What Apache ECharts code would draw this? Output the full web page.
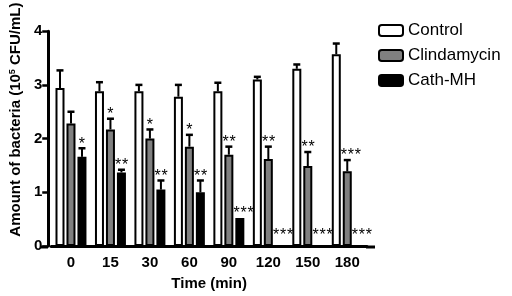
<!DOCTYPE html>
<html>
<head>
<meta charset="utf-8">
<script src="https://cdn.jsdelivr.net/npm/echarts@6/dist/echarts.min.js"></script>
<style>
html, body { margin: 0; padding: 0; background: #fff; }
#chart { width: 512px; height: 296px; }
</style>
</head>
<body>
<div id="chart"></div>
<script>
// data
const times = ['0', '15', '30', '60', '90', '120', '150', '180'];
const control = [2.94, 2.88, 2.88, 2.78, 2.88, 3.10, 3.30, 3.57];
const controlErr = [0.33, 0.17, 0.12, 0.22, 0.16, 0.05, 0.08, 0.20];
const clinda = [2.28, 2.17, 2.00, 1.85, 1.70, 1.62, 1.49, 1.39];
const clindaErr = [0.22, 0.20, 0.17, 0.22, 0.15, 0.23, 0.26, 0.21];
const cath = [1.66, 1.37, 1.05, 1.00, 0.52, 0, 0, 0];
const cathErr = [0.16, 0.05, 0.17, 0.22, 0, 0, 0, 0];
// number of asterisks above each bar
const controlSig = [0, 0, 0, 0, 0, 0, 0, 0];
const clindaSig = [0, 1, 1, 1, 2, 2, 2, 3];
const cathSig = [1, 2, 2, 2, 3, 3, 3, 3];

let chart = echarts.init(document.getElementById('chart'));
const FONT = 'Liberation Sans, Arial, sans-serif';

// upper error bar + significance stars
function errSeries(vals, errs, sig, offset) {
    return {
        type: 'custom',
        silent: true,
        z: 5,
        data: vals.map(function (v, i) { return [i, v, errs[i]]; }),
        renderItem: function (params, api) {
            let i = api.value(0);
            let v = api.value(1);
            let e = api.value(2);
            let n = sig[i];
            let base = api.coord([i, v]);
            let top = api.coord([i, v + e]);
            let x = base[0] + offset;
            let kids = [];
            if (e > 0) {
                kids.push({type: 'line', shape: {x1: x, y1: base[1], x2: x, y2: top[1]},
                    style: {stroke: '#000', lineWidth: 2}});
                kids.push({type: 'line', shape: {x1: x - 3.5, y1: top[1], x2: x + 3.5, y2: top[1]},
                    style: {stroke: '#000', lineWidth: 2.5}});
            }
            // stars sit a bit higher when the bar is empty
            let lift = (v + e) > 0 ? 4 : 10.5;
            let x0 = n > 1 ? x - 3.3 : x;
            for (let k = 0; k < n; k++) {
                kids.push({type: 'text', style: {text: '*', x: x0 + k * 7, y: top[1] - lift,
                    align: 'center', verticalAlign: 'middle',
                    font: '16px ' + FONT, fill: '#000'}});
            }
            return {type: 'group', children: kids};
        }
    };
}

let option = {
    animation: false,
    textStyle: {fontFamily: FONT},
    grid: {left: 47, right: 145, top: 31, bottom: 49},
    legend: {
        orient: 'vertical',
        left: 378,
        top: 22,
        padding: 0,
        itemWidth: 24,
        itemHeight: 11,
        itemGap: 8,
        textStyle: {fontSize: 17, color: '#000', fontFamily: FONT},
        data: ['Control', 'Clindamycin', 'Cath-MH']
    },
    xAxis: {
        type: 'category',
        data: times,
        name: 'Time (min)',
        nameLocation: 'middle',
        nameGap: 30,
        nameTextStyle: {fontWeight: 'bold', fontSize: 15, color: '#000'},
        axisLine: {lineStyle: {color: '#000', width: 3}},
        axisTick: {alignWithLabel: true, length: 5, lineStyle: {width: 2.5}},
        axisLabel: {fontWeight: 'bold', fontSize: 15, color: '#000', margin: 9}
    },
    yAxis: {
        type: 'value',
        min: 0,
        max: 4,
        interval: 1,
        offset: 3,
        name: 'Amount of bacteria (10{sup|5} CFU/mL)',
        nameLocation: 'middle',
        nameGap: 22,
        nameTextStyle: {
            fontWeight: 'bold', fontSize: 15, color: '#000',
            padding: [0, 0, 0, 38],
            rich: {sup: {fontSize: 9, fontWeight: 'bold', verticalAlign: 'top', padding: [0, 0, 6, 0]}}
        },
        splitLine: {show: false},
        axisLine: {show: true, lineStyle: {color: '#000', width: 3}},
        axisTick: {show: true, length: 6, lineStyle: {width: 2.5}},
        axisLabel: {fontWeight: 'bold', fontSize: 15, color: '#000', margin: 6}
    },
    // short stubs where the x axis line runs past the category band
    graphic: [
        {type: 'line', shape: {x1: 41, y1: 247, x2: 48, y2: 247}, style: {stroke: '#000', lineWidth: 3}},
        {type: 'line', shape: {x1: 366, y1: 247, x2: 375, y2: 247}, style: {stroke: '#000', lineWidth: 3}}
    ],
    series: [
        {name: 'Control', type: 'bar', data: control, barWidth: 9, barGap: '22%',
            itemStyle: {color: '#fff', borderColor: '#000', borderWidth: 2}},
        {name: 'Clindamycin', type: 'bar', data: clinda, barWidth: 9, barGap: '22%',
            itemStyle: {color: '#808080', borderColor: '#000', borderWidth: 2}},
        {name: 'Cath-MH', type: 'bar', data: cath, barWidth: 9, barGap: '22%',
            itemStyle: {color: '#000', borderColor: '#000', borderWidth: 2}},
        errSeries(control, controlErr, controlSig, -11),
        errSeries(clinda, clindaErr, clindaSig, 0),
        errSeries(cath, cathErr, cathSig, 11)
    ]
};

chart.setOption(option);
</script>
</body>
</html>
